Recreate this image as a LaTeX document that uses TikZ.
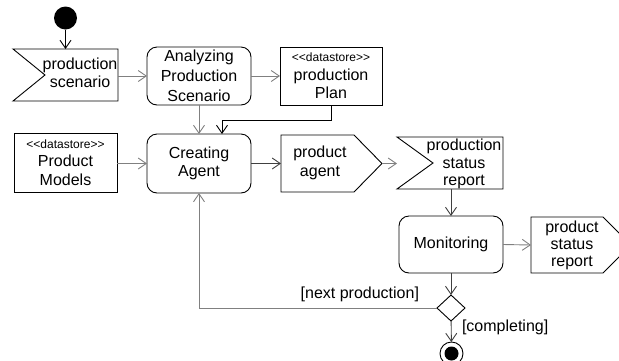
\documentclass[tikz,border=0pt]{standalone}
\usepackage{fontspec}
\setmainfont{Liberation Sans}[Ligatures=TeXOff]
\usetikzlibrary{arrows.meta,calc,shapes.geometric}
\newcommand{\dsf}{\fontsize{12}{14}\selectfont}
\begin{document}
\begin{tikzpicture}[x=1pt,y=-1pt,
  every node/.style={font=\fontsize{16}{18.5}\selectfont, align=center, inner sep=0pt, outer sep=0pt},
  act/.style={draw, rounded corners=10pt, line width=0.9pt},
  obj/.style={draw, line width=0.9pt},
  shp/.style={line width=0.9pt},
  con/.style={line width=0.9pt, -{Straight Barb[length=8pt,width=11pt]}},
  gcon/.style={con, draw=gray},
  dcon/.style={con, draw=darkgray}
]
\useasboundingbox (0,0) rectangle (619,360);
\clip (0,0) rectangle (619,360);
% nodes
\node[circle, fill=black, minimum size=23pt] (init) at (65.5,18) {};
\node[minimum width=105pt, minimum height=52pt] (ps) at (65.5,75) {};
\draw[shp] (ps.south west) -- (45,75) -- (ps.north west) -- (ps.north east) -- (ps.south east) -- cycle;
\node (pstxt) at (80,73) {production\\scenario};

\node[act, minimum width=104pt, minimum height=58pt, font=\fontsize{16}{20}\selectfont] (ana) at (199,76) {Analyzing\\Production\\Scenario};
\node[obj, minimum width=102pt, minimum height=58pt] (plan) at (331,76) {{\dsf <<datastore>>}\\production\\Plan};

\node[obj, minimum width=103pt, minimum height=59pt] (pm) at (65.5,162.5) {{\dsf <<datastore>>}\\Product\\Models};
\node[act, minimum width=104pt, minimum height=59pt] (ca) at (199,163.5) {Creating\\Agent};

\node[minimum width=101pt, minimum height=57pt] (pa) at (331.5,163.5) {};
\draw[shp] (281,135) -- (354,135) -- (pa.east) -- (354,192) -- (281,192) -- cycle;
\node (patxt) at (320,163) {product\\agent};

\node[minimum width=106pt, minimum height=52pt] (psr) at (450,163) {};
\draw[shp] (psr.south west) -- (433,163) -- (psr.north west) -- (psr.north east) -- (psr.south east) -- cycle;
\node[font=\fontsize{16}{17.5}\selectfont] (psrtxt) at (464,164) {production\\status\\report};

\node[act, minimum width=104pt, minimum height=57pt] (mon) at (451,244.5) {Monitoring};

\node[minimum width=100pt, minimum height=56pt] (pst) at (581,245) {};
\draw[shp] (531,217) -- (603,217) -- (pst.east) -- (603,273) -- (531,273) -- cycle;
\node[font=\fontsize{16}{17}\selectfont] (psttxt) at (572,245) {product\\status\\report};

\node[diamond, draw, line width=0.9pt, minimum width=28pt, minimum height=26pt] (dec) at (451,308) {};
\node[circle, draw, line width=0.9pt, minimum size=23pt] (fin) at (451.5,353.5) {};
\node[circle, fill=black, minimum size=14pt] (finin) at (fin.center) {};

% connectors
\draw[con] (init) -- (ps);
\draw[gcon] (ps.east |- ana.west) -- (ana.west);
\draw[gcon] (ana) -- (plan);
\draw[gcon] (ana) -- (ca);
\draw[con] (plan.south) -- ++(0,15) -| ([xshift=23pt]ca.north);
\draw[gcon] (pm.east |- ca.west) -- (ca.west);
\draw[dcon] (ca) -- (pa);
\draw[gcon] (pa.east) -- (pa.east -| psr.west);
\draw[dcon] (psr.south -| mon.north) -- (mon.north);
\draw[gcon] (mon.east) -- (pst.west);
\draw[dcon] (mon) -- (dec);
\draw[gcon] (dec.west) -| (ca.south);
\draw[dcon] (dec) -- (fin);

% guards
\node[anchor=east] (lnext) at (419,294) {[next production]};
\node[anchor=west] (lcomp) at (462,327) {[completing]};
\end{tikzpicture}
\end{document}
